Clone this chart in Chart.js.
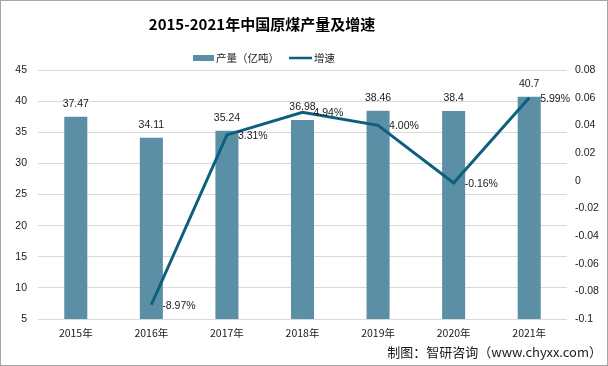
<!DOCTYPE html>
<html>
<head>
<meta charset="utf-8">
<script src="https://cdn.jsdelivr.net/npm/chart.js@4/dist/chart.umd.min.js"></script>
<style>
  html, body { margin: 0; padding: 0; background: #ffffff; }
  #wrap { width: 608px; height: 366px; position: relative; }
</style>
</head>
<body>
<div id="wrap"><canvas id="c" width="608" height="366"></canvas></div>
<script>
// ---- data ----
const categories = ['2015年', '2016年', '2017年', '2018年', '2019年', '2020年', '2021年'];
const outputValues = [37.47, 34.11, 35.24, 36.98, 38.46, 38.4, 40.7];
const growthValues = [null, -0.0897, 0.0331, 0.0494, 0.0400, -0.0016, 0.0599];
const outputLabels = ['37.47', '34.11', '35.24', '36.98', '38.46', '38.4', '40.7'];
const growthLabels = ['', '-8.97%', '3.31%', '4.94%', '4.00%', '-0.16%', '5.99%'];
const leftTicks = [5, 10, 15, 20, 25, 30, 35, 40, 45];
const rightTicks = ['-0.1', '-0.08', '-0.06', '-0.04', '-0.02', '0', '0.02', '0.04', '0.06', '0.08'];
const titleText = '2015-2021年中国原煤产量及增速';
const seriesNames = ['产量（亿吨）', '增速'];
const sourceText = '制图：智研咨询（www.chyxx.com）';

const BAR_COLOR = '#5b8fa6';
const LINE_COLOR = '#0c5f7d';
const TEXT_COLOR = '#1a1a1a';
const FONT = '"Liberation Sans", "Noto Sans CJK SC", sans-serif';
const CJK = '"Noto Sans CJK SC", "Liberation Sans", sans-serif';

const decorPlugin = {
  id: 'decor',
  afterDatasetsDraw(chart) {
    const ctx = chart.ctx;
    ctx.save();
    // bar value labels
    const barMeta = chart.getDatasetMeta(1);
    ctx.font = '10.5px ' + FONT;
    ctx.fillStyle = TEXT_COLOR;
    ctx.textAlign = 'center';
    ctx.textBaseline = 'middle';
    barMeta.data.forEach((el, i) => {
      ctx.fillText(outputLabels[i], el.x, el.y - 13);
    });
    // line value labels
    const lineMeta = chart.getDatasetMeta(0);
    ctx.textAlign = 'left';
    lineMeta.data.forEach((el, i) => {
      if (growthValues[i] === null) return;
      ctx.fillText(growthLabels[i], el.x + 11, el.y + 1);
    });
    ctx.restore();
  },
  afterDraw(chart) {
    const ctx = chart.ctx;
    ctx.save();
    // title
    ctx.font = 'bold 15px ' + CJK;
    ctx.fillStyle = '#000000';
    ctx.textAlign = 'center';
    ctx.textBaseline = 'middle';
    ctx.fillText(titleText, 262, 24);
    // legend
    ctx.font = '10.5px ' + CJK;
    ctx.fillStyle = BAR_COLOR;
    ctx.fillRect(193, 55, 21, 6);
    ctx.fillStyle = TEXT_COLOR;
    ctx.textAlign = 'left';
    ctx.fillText(seriesNames[0], 216, 58);
    ctx.strokeStyle = LINE_COLOR;
    ctx.lineWidth = 2.5;
    ctx.beginPath();
    ctx.moveTo(289, 58);
    ctx.lineTo(312, 58);
    ctx.stroke();
    ctx.fillText(seriesNames[1], 314, 58);
    // source
    ctx.font = '13px ' + CJK;
    ctx.textAlign = 'right';
    ctx.fillText(sourceText, 602, 352);
    // border
    ctx.strokeStyle = '#a6a6a6';
    ctx.lineWidth = 1;
    ctx.strokeRect(0.5, 0.5, 607, 365);
    ctx.restore();
  }
};

new Chart(document.getElementById('c'), {
  data: {
    labels: categories,
    datasets: [
      {
        type: 'line',
        label: seriesNames[1],
        data: growthValues,
        yAxisID: 'y1',
        borderColor: LINE_COLOR,
        backgroundColor: LINE_COLOR,
        borderWidth: 3,
        pointRadius: 0,
        tension: 0,
        order: 0
      },
      {
        type: 'bar',
        label: seriesNames[0],
        data: outputValues,
        yAxisID: 'y',
        backgroundColor: BAR_COLOR,
        categoryPercentage: 1,
        barPercentage: 0.305,
        order: 1
      }
    ]
  },
  options: {
    responsive: false,
    animation: false,
    devicePixelRatio: 1,
    layout: { padding: { top: 70, left: 0, right: 0, bottom: 0 } },
    plugins: {
      legend: { display: false },
      title: { display: false },
      tooltip: { enabled: false }
    },
    scales: {
      x: {
        grid: { display: false, drawTicks: false },
        border: { display: false },
        ticks: { color: TEXT_COLOR, font: { size: 10.5, family: CJK }, padding: 8 },
        afterFit(scale) { scale.height = 47; }
      },
      y: {
        position: 'left',
        min: 5, max: 45,
        afterBuildTicks(scale) { scale.ticks = leftTicks.map(v => ({ value: v })); },
        grid: { color: '#d9d9d9', drawTicks: false, lineWidth: 1 },
        border: { display: false },
        ticks: { color: TEXT_COLOR, font: { size: 10.5, family: FONT }, padding: 11 },
        afterFit(scale) { scale.width = 38; }
      },
      y1: {
        position: 'right',
        min: -0.1, max: 0.08,
        afterBuildTicks(scale) { scale.ticks = rightTicks.map(v => ({ value: parseFloat(v) })); },
        grid: { display: false, drawTicks: false },
        border: { display: false },
        ticks: {
          color: TEXT_COLOR, font: { size: 10.5, family: FONT }, padding: 8,
          callback: (v, i) => rightTicks[i]
        },
        afterFit(scale) { scale.width = 41; }
      }
    }
  },
  plugins: [decorPlugin]
});
</script>
</body>
</html>
